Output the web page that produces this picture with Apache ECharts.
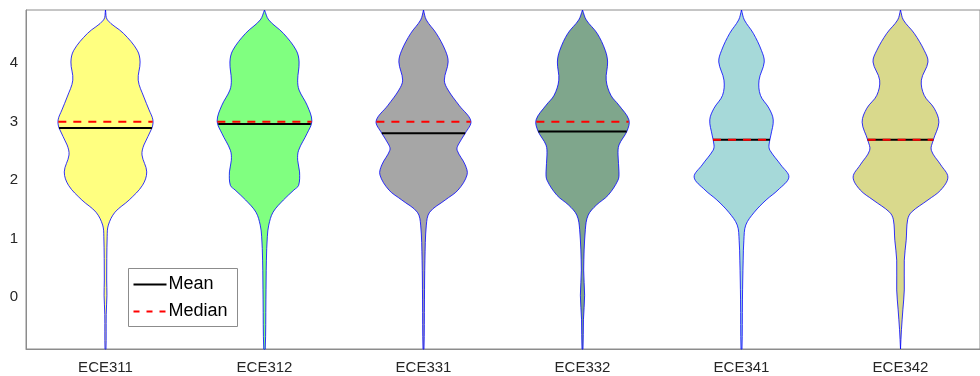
<!DOCTYPE html>
<html>
<head>
<meta charset="utf-8">
<script src="https://cdn.jsdelivr.net/npm/echarts@6/dist/echarts.min.js"></script>
<style>
  html, body { margin: 0; padding: 0; background: #ffffff; }
  #chart { width: 980px; height: 376px; }
</style>
</head>
<body>
<div id="chart"></div>
<script>
// Courses on the x axis
const categories = ['ECE311', 'ECE312', 'ECE331', 'ECE332', 'ECE341', 'ECE342'];

// Summary statistics per course
const means   = [2.89, 2.96, 2.80, 2.83, 2.69, 2.69];
const medians = [3.00, 3.00, 3.00, 3.00, 2.69, 2.69];

// Kernel density profiles: [grade, relative density (1 = widest point)]
const densityECE311 = [[4.91,0],[4.74,0.04],[4.51,0.38],[4.22,0.67],[4.02,0.73],[3.71,0.69],[3.42,0.81],[3.20,0.92],[3.03,1.0],[2.89,0.98],[2.60,0.81],[2.43,0.77],[2.14,0.87],[1.91,0.78],[1.66,0.5],[1.45,0.2],[1.23,0.06],[1.03,0.035],[0.29,0.025],[0.03,0.03],[-0.30,0.015],[-0.89,0.01]];
const densityECE312 = [[4.91,0],[4.74,0.09],[4.51,0.4],[4.22,0.67],[4.02,0.73],[3.71,0.7],[3.54,0.73],[3.28,0.9],[3.01,1.0],[2.80,0.9],[2.51,0.72],[2.34,0.7],[2.14,0.74],[1.91,0.72],[1.83,0.62],[1.66,0.4],[1.45,0.18],[1.23,0.09],[1.03,0.06],[0.63,0.04],[-0.05,0.03],[-0.89,0.015]];
const densityECE331 = [[4.91,0],[4.74,0.06],[4.51,0.27],[4.22,0.46],[4.02,0.52],[3.71,0.44],[3.54,0.52],[3.28,0.75],[3.01,1.0],[2.80,0.88],[2.60,0.73],[2.51,0.71],[2.26,0.88],[2.09,0.92],[1.83,0.73],[1.66,0.46],[1.45,0.13],[1.23,0.06],[0.63,0.03],[-0.05,0.02],[-0.89,0.01]];
const densityECE332 = [[4.91,0],[4.74,0.08],[4.51,0.31],[4.22,0.48],[4.02,0.53],[3.71,0.5],[3.45,0.6],[3.28,0.77],[3.03,0.98],[2.84,0.94],[2.60,0.77],[2.43,0.75],[2.14,0.77],[2.00,0.75],[1.74,0.54],[1.57,0.29],[1.40,0.12],[1.15,0.06],[0.46,0.025],[0.03,0.045],[-0.39,0.02],[-0.89,0.01]];
const densityECE341 = [[4.91,0],[4.74,0.06],[4.51,0.25],[4.22,0.42],[4.02,0.48],[3.71,0.37],[3.45,0.4],[3.23,0.58],[3.03,0.67],[2.77,0.62],[2.60,0.58],[2.51,0.6],[2.26,0.83],[2.05,1.0],[1.83,0.77],[1.66,0.52],[1.45,0.27],[1.23,0.09],[0.97,0.05],[0.63,0.035],[-0.05,0.02],[-0.89,0.01]];
const densityECE342 = [[4.91,0],[4.74,0.06],[4.51,0.29],[4.22,0.5],[4.02,0.58],[3.71,0.44],[3.45,0.5],[3.23,0.71],[2.99,0.81],[2.68,0.69],[2.51,0.65],[2.26,0.85],[2.05,1.0],[1.83,0.85],[1.66,0.58],[1.45,0.23],[1.32,0.15],[0.97,0.12],[0.63,0.08],[0.12,0.08],[-0.22,0.05],[-0.56,0.02],[-0.89,0]];

const profiles = [densityECE311, densityECE312, densityECE331, densityECE332, densityECE341, densityECE342];
const fillColors = ['#ffff80', '#80ff80', '#a6a6a6', '#7fa68c', '#a6d9d9', '#d9d98c'];

// widest half-width of a violin, as a share of the category band
const HALF_WIDTH = 0.298;

function densityAt(profile, y) {
  for (let k = 0; k < profile.length - 1; k++) {
    const [y0, d0] = profile[k];
    const [y1, d1] = profile[k + 1];
    if (y <= y0 && y >= y1) {
      const t = (y0 - y) / (y0 - y1);
      return d0 + (d1 - d0) * t;
    }
  }
  return 0;
}

function renderViolin(params, api) {
  const i = api.value(0);
  const band = api.size([1, 0])[0];
  const cx = api.coord([i, 0])[0];
  const prof = profiles[i];
  const right = prof.map(([y, d]) => [cx + d * HALF_WIDTH * band, api.coord([i, y])[1]]);
  const left = prof.slice().reverse().map(([y, d]) => [cx - d * HALF_WIDTH * band, api.coord([i, y])[1]]);
  const meanHW = densityAt(prof, means[i]) * HALF_WIDTH * band;
  const medHW = densityAt(prof, medians[i]) * HALF_WIDTH * band;
  const meanY = api.coord([i, means[i]])[1];
  const medY = api.coord([i, medians[i]])[1];
  return {
    type: 'group',
    children: [
      {
        type: 'polygon',
        shape: { points: right.concat(left), smooth: 0.35 },
        style: { fill: fillColors[i], stroke: '#0000ff', lineWidth: 0.8 }
      },
      {
        type: 'line',
        shape: { x1: cx - meanHW, y1: meanY, x2: cx + meanHW, y2: meanY },
        style: { stroke: '#000000', lineWidth: 2 }
      },
      {
        type: 'line',
        shape: { x1: cx - medHW, y1: medY, x2: cx + medHW, y2: medY },
        style: { stroke: '#ff0000', lineWidth: 2, lineDash: [8, 7] }
      }
    ]
  };
}

const FONT = '"Liberation Sans", Arial, Helvetica, sans-serif';
const chart = echarts.init(document.getElementById('chart'), null, { renderer: 'canvas' });

chart.setOption({
  animation: false,
  backgroundColor: '#ffffff',
  grid: {
    left: 26, top: 10, width: 966, bottom: 27,
    show: true, borderColor: '#8c8c8c', borderWidth: 1, backgroundColor: 'transparent'
  },
  xAxis: {
    type: 'category',
    data: categories,
    boundaryGap: true,
    axisLine: { onZero: false, lineStyle: { color: '#8c8c8c', width: 1 } },
    axisTick: { show: false },
    axisLabel: { color: '#262626', fontSize: 15, fontFamily: FONT, margin: 11 },
    splitLine: { show: false }
  },
  yAxis: {
    type: 'value',
    min: -0.89,
    max: 4.91,
    axisLine: { show: true, onZero: false, lineStyle: { color: '#8c8c8c', width: 1 } },
    axisTick: { show: false },
    splitLine: { show: false },
    axisLabel: {
      color: '#262626', fontSize: 15, fontFamily: FONT, margin: 8,
      showMinLabel: false, showMaxLabel: false,
      formatter: v => (Math.abs(v - Math.round(v)) < 1e-6 ? String(Math.round(v)) : '')
    }
  },
  series: [{
    type: 'custom',
    name: 'Grades',
    renderItem: renderViolin,
    data: categories.map((c, i) => [i]),
    encode: { x: 0 },
    silent: true
  }],
  graphic: [
    {
      type: 'group', left: 128, top: 268,
      children: [
        { type: 'rect', shape: { x: 0, y: 0, width: 109, height: 58 }, style: { fill: '#ffffff', stroke: '#8c8c8c', lineWidth: 1 } },
        { type: 'line', shape: { x1: 5, y1: 16, x2: 38, y2: 16 }, style: { stroke: '#000000', lineWidth: 2 } },
        { type: 'line', shape: { x1: 5, y1: 43, x2: 38, y2: 43 }, style: { stroke: '#ff0000', lineWidth: 2, lineDash: [6, 7] } },
        { type: 'text', x: 40, y: 16, style: { text: 'Mean', fill: '#000000', font: '18px ' + FONT, verticalAlign: 'middle' } },
        { type: 'text', x: 40, y: 43, style: { text: 'Median', fill: '#000000', font: '18px ' + FONT, verticalAlign: 'middle' } }
      ]
    }
  ]
});
</script>
</body>
</html>
